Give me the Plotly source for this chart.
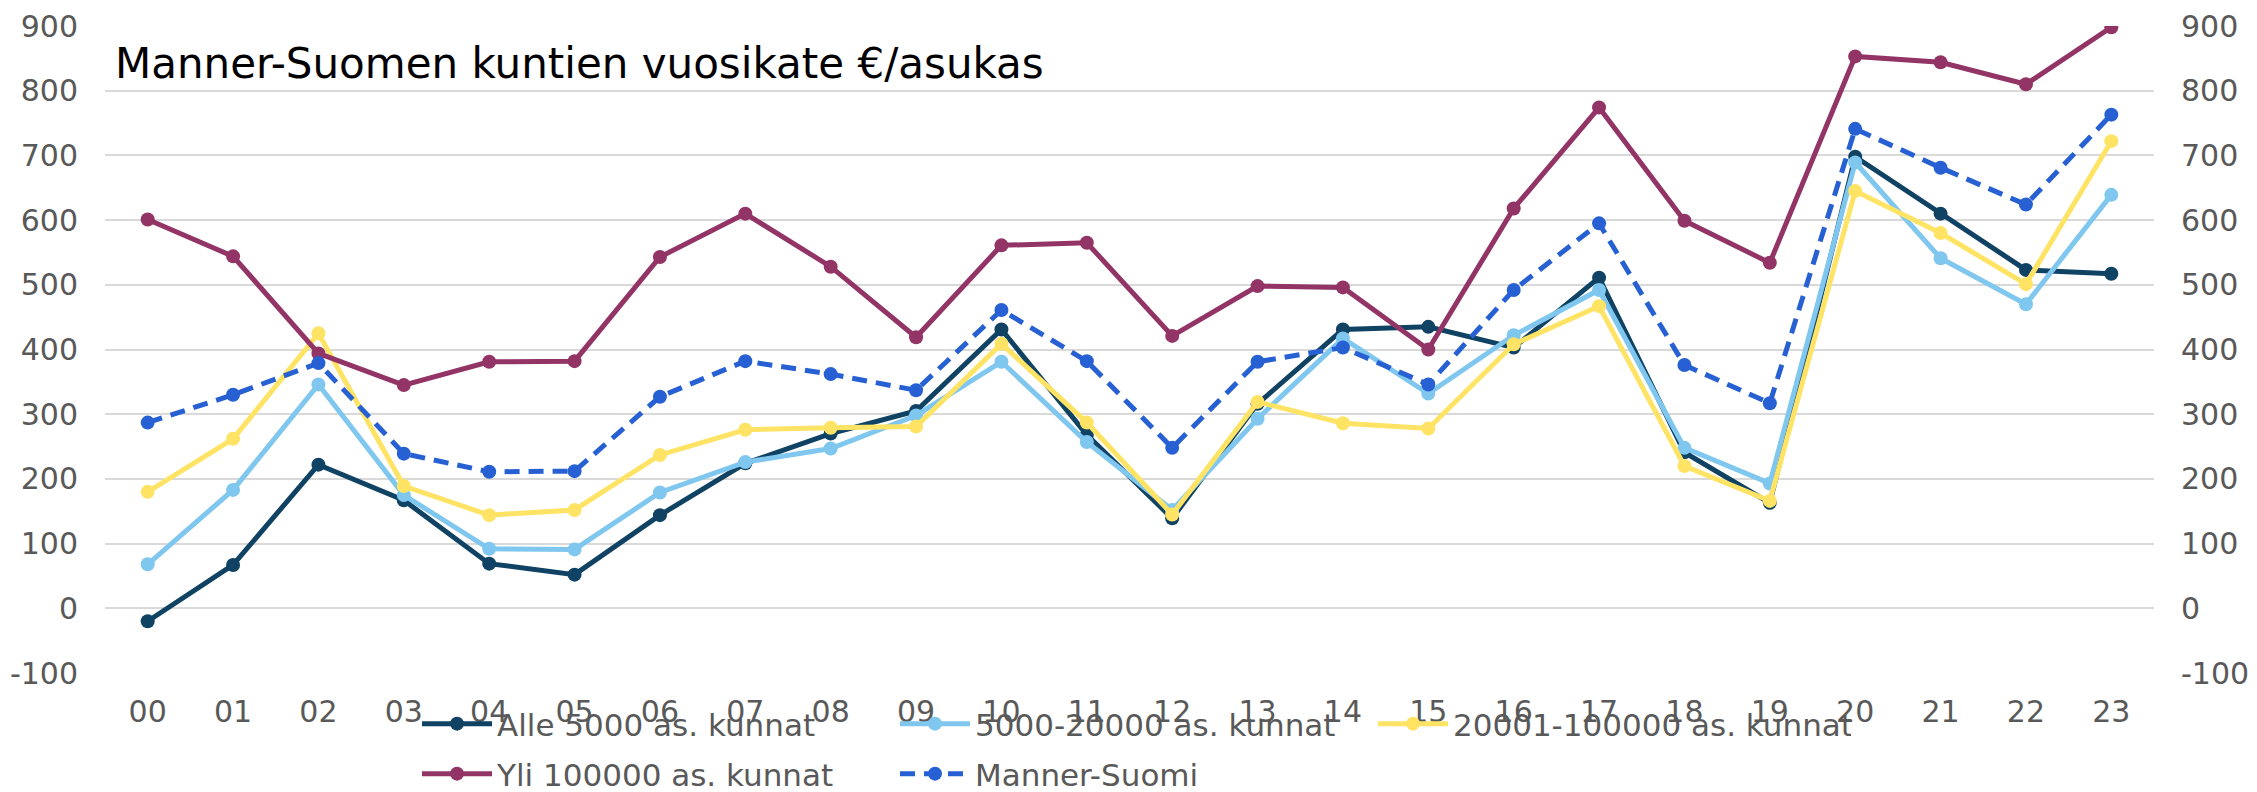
import plotly.graph_objects as go

years = ["00", "01", "02", "03", "04", "05", "06", "07", "08", "09", "10", "11",
         "12", "13", "14", "15", "16", "17", "18", "19", "20", "21", "22", "23"]

alle_5000 = [-20, 67, 222, 167, 69, 52, 144, 224, 270, 305, 431, 268,
             139, 316, 431, 435, 403, 511, 241, 163, 698, 610, 523, 517]
k5000_20000 = [68, 183, 346, 175, 92, 91, 179, 226, 247, 298, 381, 257,
               152, 293, 417, 332, 422, 492, 248, 193, 689, 541, 470, 639]
k20001_100000 = [180, 262, 425, 189, 144, 152, 237, 276, 279, 281, 409, 287,
                 145, 319, 286, 278, 408, 467, 220, 166, 645, 580, 501, 722]
yli_100000 = [601, 544, 394, 345, 381, 382, 543, 610, 528, 419, 561, 565,
              421, 498, 496, 400, 618, 774, 599, 534, 853, 844, 810, 898]
manner_suomi = [287, 330, 379, 239, 211, 212, 327, 382, 362, 337, 461, 382,
                248, 381, 403, 346, 492, 595, 376, 317, 741, 681, 624, 763]

y_tickvals = [-100, 0, 100, 200, 300, 400, 500, 600, 700, 800, 900]
y_ticktext = ["-100", "0", "100", "200", "300", "400", "500", "600", "700", "800", "900"]

series = [
    ("Alle 5000 as. kunnat", alle_5000, "#0f4263", "solid", "legend"),
    ("5000-20000 as. kunnat", k5000_20000, "#7fc7ef", "solid", "legend"),
    ("20001-100000 as. kunnat", k20001_100000, "#ffe364", "solid", "legend"),
    ("Yli 100000 as. kunnat", yli_100000, "#933466", "solid", "legend2"),
    ("Manner-Suomi", manner_suomi, "#2760d3", "15px,9px", "legend2"),
]

FONT = "DejaVu Sans"
GRAY = "#595959"
W, H = 2257, 792

fig = go.Figure()
for name, vals, col, dash, leg in series:
    fig.add_trace(go.Scatter(
        x=years, y=vals, name=name, mode="lines+markers",
        line=dict(color=col, width=5, dash=dash),
        marker=dict(color=col, size=14, symbol="circle"),
        legend=leg, hoverinfo="skip",
    ))

# invisible trace for the right-hand axis
fig.add_trace(go.Scatter(x=years, y=manner_suomi, yaxis="y2", mode="lines",
                         line=dict(color="rgba(0,0,0,0)"), showlegend=False,
                         hoverinfo="skip"))

axis_common = dict(range=[-100, 900], tickvals=y_tickvals, ticktext=y_ticktext,
                   tickfont=dict(family=FONT, size=30, color=GRAY),
                   zeroline=False, showline=False, ticks="", fixedrange=True,
                   automargin=False)

legend_common = dict(orientation="h", x=417 / W, xanchor="left", yanchor="middle",
                     xref="container", yref="container",
                     font=dict(family=FONT, size=31, color=GRAY), itemwidth=70,
                     entrywidth=393, entrywidthmode="pixels", bgcolor="rgba(0,0,0,0)")

fig.update_layout(
    width=W, height=H,
    margin=dict(l=105, r=103, t=26, b=119),
    paper_bgcolor="white", plot_bgcolor="white",
    title=dict(text="Manner-Suomen kuntien vuosikate €/asukas",
               font=dict(family=FONT, size=42, color="#000000"),
               x=115 / W, xanchor="left", y=1 - 63 / H, yanchor="middle",
               xref="container", yref="container"),
    xaxis=dict(type="category", range=[-0.5, 23.5], showgrid=False, zeroline=False,
               showline=False, ticks="", tickfont=dict(family=FONT, size=30, color=GRAY),
               ticklabelstandoff=18, fixedrange=True, automargin=False),
    yaxis=dict(showgrid=True, gridcolor="#d9d9d9", gridwidth=2, ticklabelstandoff=26,
               **axis_common),
    yaxis2=dict(overlaying="y", side="right", showgrid=False, ticklabelstandoff=26,
                **axis_common),
    legend=dict(y=1 - 724 / H, **legend_common),
    legend2=dict(y=1 - 774 / H, **legend_common),
    hovermode=False,
)

fig.write_html("out.html", post_script="document.body.style.margin='0';",
               config={"displayModeBar": False})
